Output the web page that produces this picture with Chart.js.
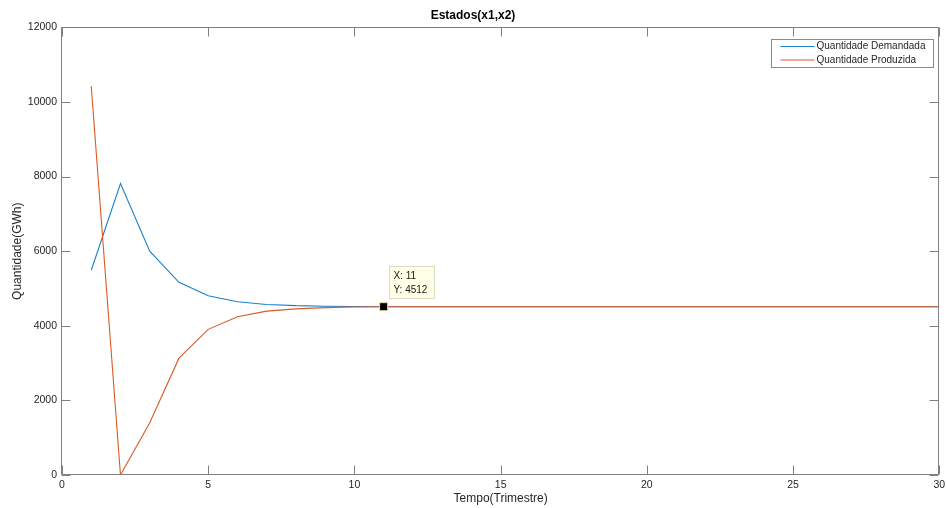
<!DOCTYPE html>
<html>
<head>
<meta charset="utf-8">
<script src="https://cdn.jsdelivr.net/npm/chart.js@4/dist/chart.umd.min.js"></script>
<style>
  body { margin: 0; background: #fff; }
  #wrap { width: 946px; height: 508px; position: relative; }
</style>
</head>
<body>
<div id="wrap"><canvas id="estados-chart"></canvas></div>
<script>
// trimestres 1..30
var quarters = [1, 2, 3, 4, 5, 6, 7, 8, 9, 10, 11, 12, 13, 14, 15,
  16, 17, 18, 19, 20, 21, 22, 23, 24, 25, 26, 27, 28, 29, 30];

var demanded = [5490, 7815, 6000, 5165, 4805, 4643, 4573, 4540, 4525, 4517,
  4512, 4512, 4512, 4512, 4512, 4512, 4512, 4512, 4512, 4512,
  4512, 4512, 4512, 4512, 4512, 4512, 4512, 4512, 4512, 4512];

var produced = [10425, 0, 1400, 3132, 3905, 4241, 4393, 4455, 4487, 4503,
  4512, 4512, 4512, 4512, 4512, 4512, 4512, 4512, 4512, 4512,
  4512, 4512, 4512, 4512, 4512, 4512, 4512, 4512, 4512, 4512];

var seriesLabels = ['Quantidade Demandada', 'Quantidade Produzida'];
var tipIndex = 10;

var FONT = '"Liberation Sans", Arial, Helvetica, sans-serif';
var BLUE = '#1a80cc';
var ORANGE = '#dc5a20';
var AXIS = '#808080';

function points(values) {
  return quarters.map(function (q, i) { return { x: q, y: values[i] }; });
}

// caixa do eixo com marcas para dentro (estilo matlab)
var boxAxes = {
  id: 'boxAxes',
  afterDatasetsDraw: function (chart) {
    var ctx = chart.ctx;
    var a = chart.chartArea;
    var x = chart.scales.x;
    var y = chart.scales.y;
    var l = Math.round(a.left) - 0.5, r = Math.round(a.right) - 0.5;
    var t = Math.round(a.top) + 0.5, b = Math.round(a.bottom) - 0.5;
    ctx.save();
    ctx.strokeStyle = AXIS;
    ctx.lineWidth = 1;
    ctx.beginPath();
    ctx.rect(l, t, r - l, b - t);
    x.ticks.forEach(function (tk) {
      var px = Math.round(x.getPixelForValue(tk.value)) + 0.5;
      ctx.moveTo(px, b); ctx.lineTo(px, b - 9);
      ctx.moveTo(px, t); ctx.lineTo(px, t + 9);
    });
    y.ticks.forEach(function (tk) {
      var py = Math.round(y.getPixelForValue(tk.value)) + 0.5;
      ctx.moveTo(l, py); ctx.lineTo(l + 9, py);
      ctx.moveTo(r, py); ctx.lineTo(r - 9, py);
    });
    ctx.stroke();
    ctx.restore();
  },
  afterDraw: function (chart) {
    var ctx = chart.ctx;
    var a = chart.chartArea;
    var colors = [BLUE, ORANGE];

    // legenda
    var lw = 162, lh = 28;
    var lx = Math.round(a.right) - 167.5, ly = Math.round(a.top) + 12.5;
    ctx.save();
    ctx.fillStyle = '#fff';
    ctx.fillRect(lx, ly, lw, lh);
    ctx.strokeStyle = '#8a8a8a';
    ctx.lineWidth = 1;
    ctx.strokeRect(lx, ly, lw, lh);
    ctx.font = '10px ' + FONT;
    ctx.textBaseline = 'middle';
    seriesLabels.forEach(function (lbl, i) {
      var ry = ly + 7 + i * 13.5;
      ctx.strokeStyle = colors[i];
      ctx.beginPath();
      ctx.moveTo(lx + 9, ry); ctx.lineTo(lx + 43, ry);
      ctx.stroke();
      ctx.fillStyle = '#262626';
      ctx.fillText(lbl, lx + 45, ry);
    });

    // datatip
    var px = chart.scales.x.getPixelForValue(quarters[tipIndex]);
    var py = chart.scales.y.getPixelForValue(demanded[tipIndex]);
    var bx = Math.round(px) + 5.5, by = Math.round(py) - 40.5;
    ctx.fillStyle = '#ffffe6';
    ctx.fillRect(bx, by, 45, 32);
    ctx.strokeStyle = '#dcdcc4';
    ctx.strokeRect(bx, by, 45, 32);
    ctx.fillStyle = '#1a1a1a';
    ctx.fillText('X: ' + quarters[tipIndex], bx + 4, by + 10);
    ctx.fillText('Y: ' + demanded[tipIndex], bx + 4, by + 24);
    ctx.restore();
  }
};

new Chart(document.getElementById('estados-chart'), {
  type: 'line',
  data: {
    datasets: [{
      data: [{ x: quarters[tipIndex], y: demanded[tipIndex] }],
      showLine: false,
      pointStyle: 'rect',
      pointRadius: 5.7,
      backgroundColor: '#000',
      borderColor: '#e6e2a8',
      borderWidth: 1,
      order: 0
    }, {
      label: seriesLabels[0],
      data: points(demanded),
      borderColor: BLUE,
      borderWidth: 1.1,
      pointRadius: 0,
      order: 2
    }, {
      label: seriesLabels[1],
      data: points(produced),
      borderColor: ORANGE,
      borderWidth: 1.1,
      pointRadius: 0,
      order: 1
    }]
  },
  options: {
    responsive: true,
    maintainAspectRatio: false,
    animation: false,
    layout: { padding: { left: 0, right: 0, top: 0, bottom: 0 } },
    plugins: {
      legend: { display: false },
      tooltip: { enabled: false },
      title: {
        display: true,
        text: 'Estados(x1,x2)',
        color: '#000',
        font: { family: FONT, size: 12, weight: 'bold' },
        padding: { top: 8, bottom: 5 }
      }
    },
    scales: {
      x: {
        type: 'linear',
        min: 0,
        max: 30,
        grid: { display: false, drawTicks: false },
        border: { display: false },
        ticks: { stepSize: 5, padding: 4, color: '#262626', maxRotation: 0,
          font: { family: FONT, size: 10.5 },
          callback: function (v) { return String(v); } },
        title: { display: true, text: 'Tempo(Trimestre)', color: '#262626',
          font: { family: FONT, size: 12 }, padding: { top: 0, bottom: 2 } },
        afterFit: function (scale) {
          scale.height = 33;
          scale.paddingRight = 0;
          scale.paddingLeft = 0;
        }
      },
      y: {
        min: 0,
        max: 12000,
        grid: { display: false, drawTicks: false },
        border: { display: false },
        ticks: { stepSize: 2000, padding: 5, color: '#262626',
          font: { family: FONT, size: 10.5 },
          callback: function (v) { return String(v); } },
        title: { display: true, text: 'Quantidade(GWh)', color: '#262626',
          font: { family: FONT, size: 12 }, padding: { top: 10, bottom: 0 } },
        afterFit: function (scale) { scale.width = 62; }
      }
    }
  },
  plugins: [boxAxes]
});
</script>
</body>
</html>
